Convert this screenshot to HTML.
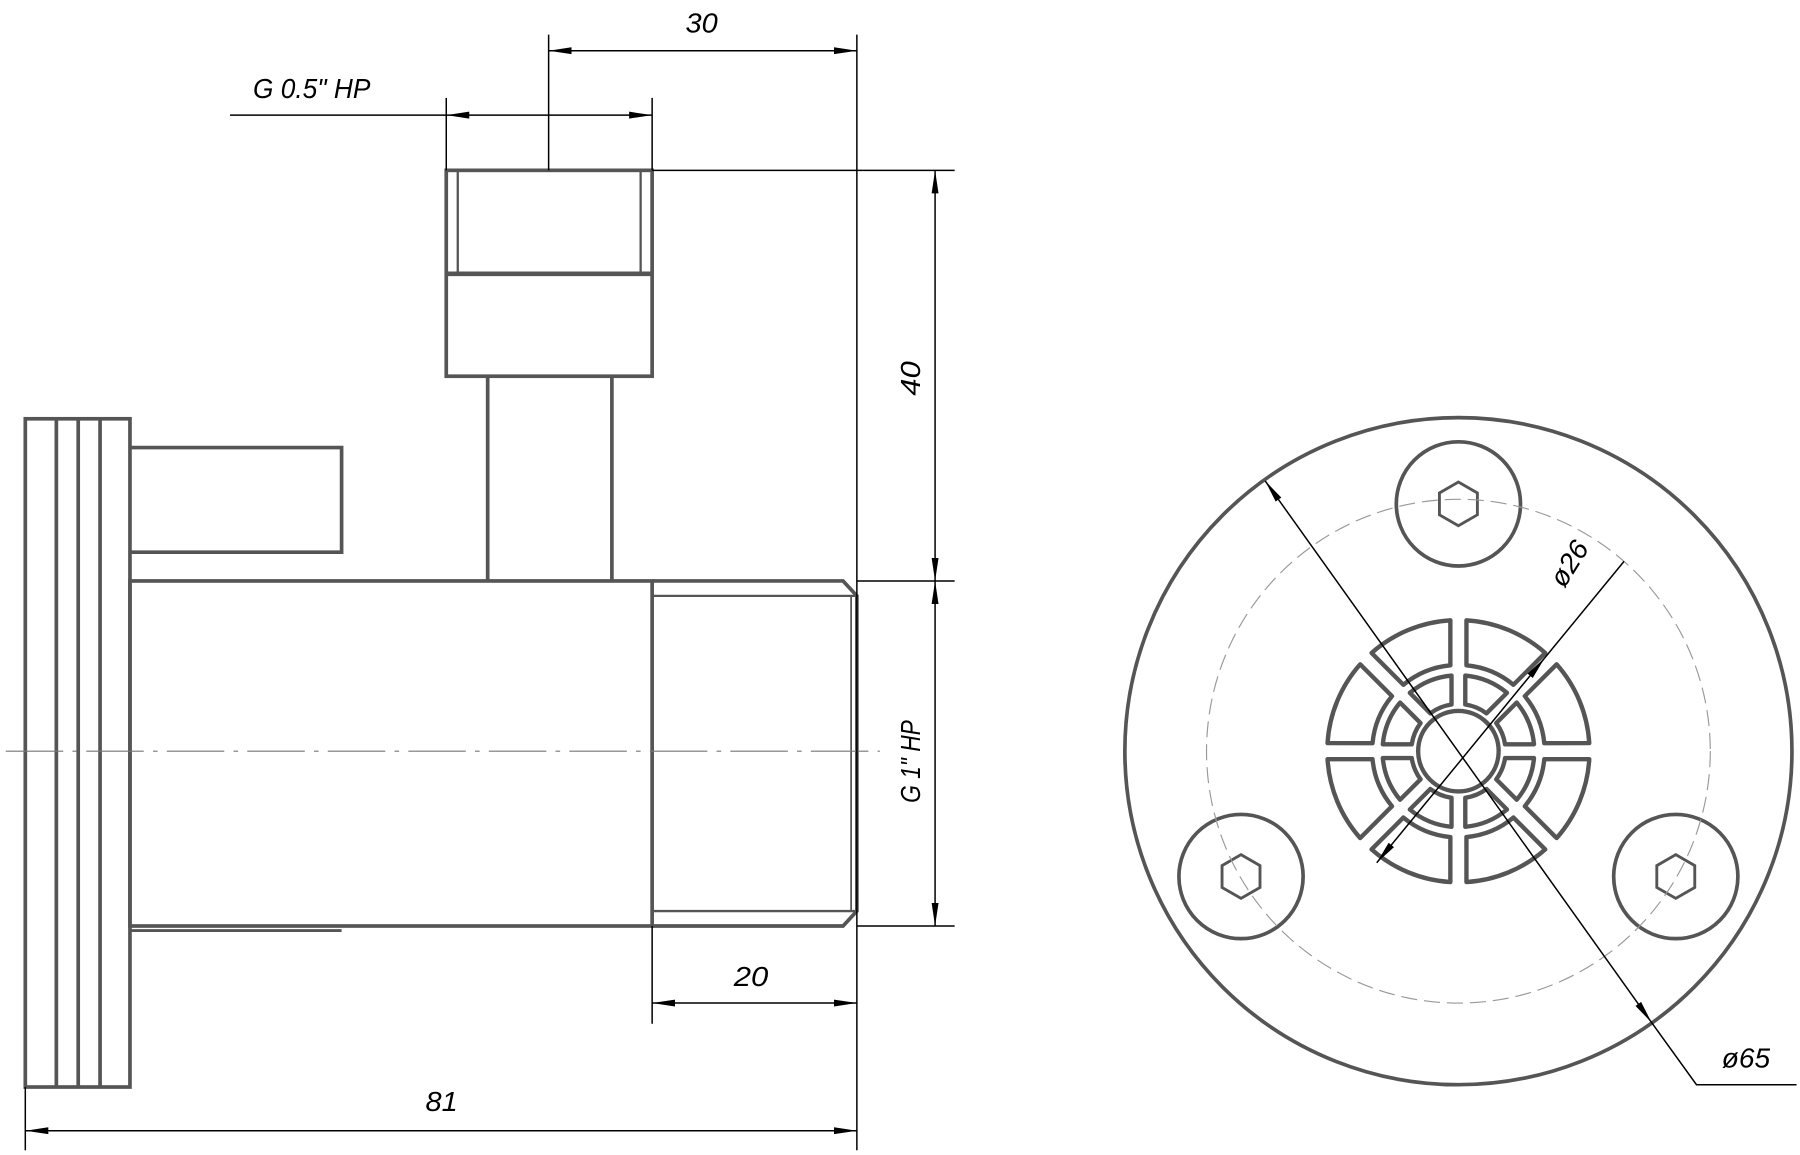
<!DOCTYPE html>
<html><head><meta charset="utf-8"><style>html,body{margin:0;padding:0;background:#fff}svg{display:block}</style></head>
<body>
<svg id="s" width="1800" height="1155" viewBox="0 0 1565 1004" xmlns="http://www.w3.org/2000/svg">
<defs>
<marker id="a" viewBox="0 0 20 8" refX="20" refY="4" markerWidth="20" markerHeight="8" markerUnits="userSpaceOnUse" orient="auto-start-reverse"><path d="M0,1 L20,4 L0,7 Z" fill="#000"/></marker>
</defs>
<g fill="none" stroke="#555" stroke-width="3.2">
<rect x="22" y="364" width="91" height="581"/>
<line x1="49" y1="364" x2="49" y2="945"/>
<line x1="68" y1="364" x2="68" y2="945"/>
<line x1="87" y1="364" x2="87" y2="945"/>
<polyline points="113,389 297,389 297,480 113,480"/>
<rect x="113" y="505" width="454" height="300"/>
<line x1="113" y1="809" x2="297" y2="809" stroke-width="2.5"/>
<polyline points="567,505 733,505 745,518 745,792 733,805 567,805"/>
<line x1="567" y1="518" x2="745" y2="518" stroke-width="2"/>
<line x1="567" y1="792" x2="745" y2="792" stroke-width="2"/>
<line x1="740" y1="518" x2="740" y2="792" stroke-width="1.5"/>
<line x1="424" y1="327" x2="424" y2="505"/>
<line x1="532" y1="327" x2="532" y2="505"/>
<rect x="388" y="148" width="179" height="179"/>
<line x1="388" y1="238" x2="567" y2="238" stroke-width="4"/>
<line x1="398" y1="148" x2="398" y2="238" stroke-width="2"/>
<line x1="557" y1="148" x2="557" y2="238" stroke-width="2"/>
</g>
<line x1="5" y1="653" x2="765" y2="653" stroke="#777" stroke-width="1" stroke-dasharray="50,8,4,8"/>
<g stroke="#000" stroke-width="1.3" fill="none">
<line x1="477" y1="30" x2="477" y2="148"/>
<line x1="745" y1="30" x2="745" y2="1000"/>
<line x1="477" y1="44" x2="745" y2="44" marker-start="url(#a)" marker-end="url(#a)"/>
<line x1="388" y1="85" x2="388" y2="148"/>
<line x1="567" y1="85" x2="567" y2="148"/>
<line x1="200" y1="100" x2="388" y2="100"/>
<line x1="388" y1="100" x2="567" y2="100" marker-start="url(#a)" marker-end="url(#a)"/>
<line x1="567" y1="148" x2="830" y2="148"/>
<line x1="745" y1="505" x2="830" y2="505"/>
<line x1="745" y1="805" x2="830" y2="805"/>
<line x1="813" y1="148" x2="813" y2="505" marker-start="url(#a)" marker-end="url(#a)"/>
<line x1="813" y1="505" x2="813" y2="805" marker-start="url(#a)" marker-end="url(#a)"/>
<line x1="567" y1="805" x2="567" y2="890"/>
<line x1="567" y1="872" x2="745" y2="872" marker-start="url(#a)" marker-end="url(#a)"/>
<line x1="22" y1="945" x2="22" y2="1000"/>
<line x1="22" y1="983" x2="745" y2="983" marker-start="url(#a)" marker-end="url(#a)"/>
</g>
<g font-family="Liberation Sans, sans-serif" font-style="italic" font-size="24" fill="#000">
<text x="596" y="28" textLength="28" lengthAdjust="spacingAndGlyphs">30</text>
<text x="220" y="85" textLength="102" lengthAdjust="spacingAndGlyphs">G 0.5" HP</text>
<text x="638" y="857" textLength="30" lengthAdjust="spacingAndGlyphs">20</text>
<text x="370" y="966" textLength="28" lengthAdjust="spacingAndGlyphs">81</text>
<text transform="translate(800,344) rotate(-90)" textLength="30" lengthAdjust="spacingAndGlyphs">40</text>
<text transform="translate(800,698) rotate(-90)" textLength="72" lengthAdjust="spacingAndGlyphs">G 1" HP</text>
<text x="1497" y="928" textLength="42" lengthAdjust="spacingAndGlyphs">ø65</text>
<text transform="translate(1360,512) rotate(-58)" textLength="42" lengthAdjust="spacingAndGlyphs">ø26</text>
</g>
<g fill="none" stroke="#555" stroke-width="3.2">
<circle cx="1268" cy="653" r="290"/>
<circle cx="1268" cy="438" r="54"/>
<circle cx="1079" cy="762" r="54"/>
<circle cx="1457" cy="762" r="54"/>
<circle cx="1268" cy="653" r="35" stroke-width="3.8"/>
<g id="grille" stroke-width="3.8" stroke-linejoin="round"></g>
<g id="hex" stroke-width="2.5"></g>
</g>
<circle cx="1268" cy="653" r="219" fill="none" stroke="#999" stroke-width="1" stroke-dasharray="14,6"/>
<g stroke="#000" stroke-width="1.3" fill="none">
<line x1="1100" y1="418" x2="1436" y2="889" marker-start="url(#a)" marker-end="url(#a)"/>
<polyline points="1436,889 1475,943 1562,943"/>
<line x1="1197" y1="750" x2="1343" y2="572" marker-start="url(#a)" marker-end="url(#a)"/>
<line x1="1343" y1="572" x2="1412" y2="488"/>
</g>
<script>
(function(){
var ns="http://www.w3.org/2000/svg",cx=1268,cy=653;
var g=document.getElementById('grille');
function seg(r1,r2,a1,a2,gap){
 var d1=gap/r1,d2=gap/r2;
 function p(r,a){return (cx+r*Math.cos(a)).toFixed(2)+','+(cy+r*Math.sin(a)).toFixed(2);}
 var s='M'+p(r2,a1+d2)+' A'+r2+','+r2+' 0 0 1 '+p(r2,a2-d2)+' L'+p(r1,a2-d1)+' A'+r1+','+r1+' 0 0 0 '+p(r1,a1+d1)+' Z';
 var e=document.createElementNS(ns,'path');e.setAttribute('d',s);g.appendChild(e);
}
for(var i=0;i<8;i++){var a=i*Math.PI/4;seg(75,114,a,a+Math.PI/4,7);seg(41,66,a,a+Math.PI/4,6);}
var h=document.getElementById('hex');
[[1268,438],[1079,762],[1457,762]].forEach(function(c){
 var pts=[];for(var k=0;k<6;k++){var a=Math.PI/6+k*Math.PI/3;pts.push((c[0]+19*Math.cos(a)).toFixed(1)+','+(c[1]+19*Math.sin(a)).toFixed(1));}
 var e=document.createElementNS(ns,'polygon');e.setAttribute('points',pts.join(' '));h.appendChild(e);
});
})();
</script>
</svg>
</body></html>
